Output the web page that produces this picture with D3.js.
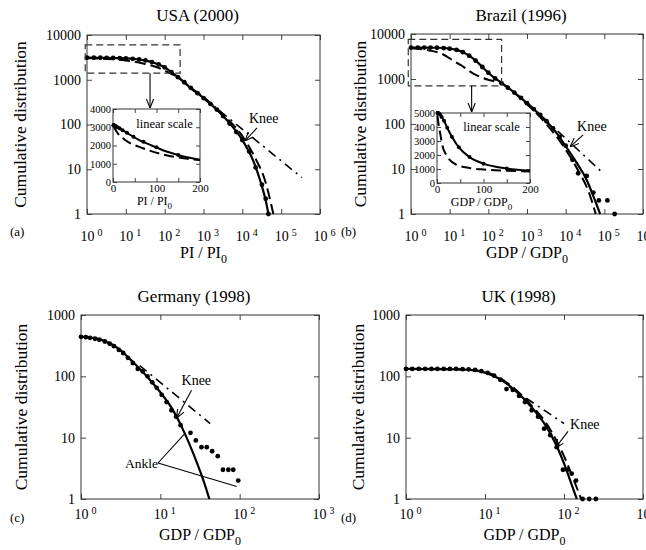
<!DOCTYPE html>
<html>
<head>
<meta charset="utf-8">
<script src="https://cdn.jsdelivr.net/npm/d3@7"></script>
<style>
  body { margin: 0; background: #fff; font-family: 'Liberation Serif', serif; }
</style>
</head>
<body>
<div id="chart"></div>
<script>
// ---- Données : [x, distribution cumulée] ----
const usaDots = [[1,3110],[1.5,3110],[2.2,3100],[3.2,3090],[4.7,3080],[7,3040],[10,3000],[15,2940],[22,2840],[32,2700],[47,2480],[70,2200],[100,1900],[150,1480],[220,1140],[320,880],[470,660],[700,500],[1000,390],[1500,290],[2200,215],[3200,155],[4700,105],[7000,68],[10000,45],[15000,25],[22000,11],[32000,4.5],[40000,2.2],[47000,1]];
const usaSolid = [[1,3110],[10,3000],[20,2870],[40,2575],[60,2300],[89,2000],[127,1640],[160,1410],[200,1220],[500,620],[1000,390],[2000,230],[5000,100],[10000,45],[20000,14],[30000,5],[40000,2],[47000,1]];
const usaDashed = [[1,3050],[10,2700],[28,2300],[69,1850],[120,1480],[162,1300],[200,1200],[500,640],[1000,410],[3000,175],[10000,55],[20000,20],[40000,5],[63000,1]];
const usaDashDot = [[1000,400],[340000,6.5]];

const brazilDots = [[1,5000],[1.5,5000],[2.2,4990],[3.2,4980],[4.7,4950],[7,4870],[10,4720],[15,4450],[22,3950],[32,3300],[47,2550],[70,1850],[100,1380],[150,1030],[220,800],[320,640],[470,500],[700,380],[1000,290],[1500,215],[2200,160],[3200,115],[4700,80],[7000,52],[10000,33],[15000,16],[21000,8],[35000,7],[52000,3],[72000,2],[120000,2],[185000,1]];
const brazilSolid = [[1,5000],[5,4950],[10,4750],[15,4450],[22,3950],[32,3300],[47,2550],[70,1850],[100,1380],[150,1030],[200,870],[500,480],[1000,290],[3000,120],[5000,75],[10000,32],[20000,13],[35000,5.7],[55000,2.2],[78000,1]];
const brazilDashed = [[1,4800],[3,4300],[6,3700],[13,2500],[20,2000],[42,1300],[70,1070],[100,960],[150,880],[200,820],[500,470],[1000,275],[3000,105],[10000,27],[20000,10],[40000,3],[60000,1]];
const brazilDashDot = [[1000,300],[94000,8]];

const germanyDots = [[1,440],[1.15,435],[1.3,425],[1.5,410],[1.7,395],[2,370],[2.3,340],[2.6,310],[3,270],[3.4,240],[3.9,200],[4.5,165],[5.2,132],[6,120],[6.9,100],[7.9,80],[9,65],[10.4,50],[12,38],[13.8,28],[15.8,22],[18,16],[24,12],[28,9],[33,7],[38.5,7],[45,6],[53,5],[61.5,3],[72,3],[83,3],[96,2]];
const germanySolid = [[1,440],[1.5,415],[2,375],[3,280],[4,200],[5,150],[7,95],[10,55],[14,30],[18.6,15],[27,4.9],[35,2],[41.5,1]];
const germanyDashDot = [[5.5,150],[42.5,17]];

const ukDots = [[1,132],[1.2,132],[1.45,132],[1.75,132],[2.1,132],[2.5,132],[3,132],[3.6,132],[4.3,132],[5.2,131],[6.2,130],[7.5,127],[9,122],[10.8,114],[13,103],[15.6,88],[18.7,62],[22.5,60],[27,48],[32,38],[39,28],[47,22],[56,14],[67,11],[81,7],[97,3],[110,3],[125,2.6],[142,2],[172,1],[209,1],[253,1]];
const ukSolid = [[1,132],[3,131],[6,128],[10,115],[15,92],[20,72],[30,45],[40,30],[60,15],[80,7.5],[100,3.8],[120,2],[145,1]];
const ukDashed = [[1,132],[5,130],[10,118],[20,75],[40,32],[60,17],[80,9],[100,5],[130,2.2],[165,1]];
const ukDashDot = [[20,68],[100,17]];

// Encarts (échelle linéaire)
const usaInsetYTicks = [0, 1000, 2000, 3000, 4000];
const brazilInsetYTicks = [0, 1000, 2000, 3000, 4000, 5000];
const insetXTicks = [0, 50, 100, 150, 200];

// ---- Mise en page ----
const FONT = "'Liberation Serif', 'Times New Roman', serif";
const svg = d3.select('#chart').append('svg')
  .attr('width', 646)
  .attr('height', 550)
  .attr('font-family', FONT);

svg.append('defs').append('marker')
  .attr('id', 'arrow')
  .attr('viewBox', '0 0 10 10')
  .attr('refX', 10).attr('refY', 5)
  .attr('markerWidth', 9).attr('markerHeight', 9)
  .attr('markerUnits', 'userSpaceOnUse')
  .attr('orient', 'auto')
  .append('path')
  .attr('d', 'M0,1 L10,5 L0,9')
  .attr('fill', 'none')
  .attr('stroke', '#000')
  .attr('stroke-width', 1.2);

const panels = [
  {
    key: 'a', title: 'USA (2000)', label: '(a)', left: 87, right: 320, top: 35, bottom: 214,
    xMax: 1e6, yMax: 1e4, xPad: 17, xTitle: ['PI / PI', '0'], xTitleY: 258, labelPos: [10, 236], yTitleX: 20, titleY: 21,
    dots: usaDots, solid: usaSolid, dashed: usaDashed, dashDot: usaDashDot,
    knees: [{ text: 'Knee', tip: [11700, 43], textOff: [4, -18], tailOff: [12, -13] }],
    box: { x: [0.9, 250], y: [1400, 6000], arrowX: 42 },
    inset: { left: 113, right: 200, top: 109, bottom: 182, yMax: 4000, yTicks: usaInsetYTicks, title: ['PI / PI', '0'], textY: 127.5, titleY: 205 }
  },
  {
    key: 'b', title: 'Brazil (1996)', label: '(b)', left: 411, right: 643, top: 34, bottom: 214,
    xMax: 1e6, yMax: 1e4, xPad: 17, xTitle: ['GDP / GDP', '0'], xTitleY: 258, labelPos: [341, 236], yTitleX: 360, titleY: 21,
    dots: brazilDots, solid: brazilSolid, dashed: brazilDashed, dashDot: brazilDashDot,
    knees: [{ text: 'Knee', tip: [13000, 31], textOff: [7, -16], tailOff: [13, -12] }],
    box: { x: [0.85, 220], y: [700, 7600], arrowX: 37 },
    inset: { left: 437, right: 530, top: 113, bottom: 183, yMax: 5000, yTicks: brazilInsetYTicks, title: ['GDP / GDP', '0'], textY: 131, titleY: 206 }
  },
  {
    key: 'c', title: 'Germany (1998)', label: '(c)', left: 81, right: 319, top: 315, bottom: 499,
    xMax: 1e3, yMax: 1e3, xPad: 10, xTitle: ['GDP / GDP', '0'], xTitleY: 540, labelPos: [10, 522], yTitleX: 21, titleY: 302,
    dots: germanyDots, solid: germanySolid, dashed: null, dashDot: germanyDashDot,
    knees: [{ text: 'Knee', tip: [16, 20.7], textOff: [5, -33], tailOff: [15, -28] }],
    ankle: { textAt: [125, 468], ends: [[20.5, 11.8], [92, 1.6]] }
  },
  {
    key: 'd', title: 'UK (1998)', label: '(d)', left: 406, right: 643, top: 315, bottom: 499,
    xMax: 1e3, yMax: 1e3, xPad: 10, xTitle: ['GDP / GDP', '0'], xTitleY: 540, labelPos: [341, 522], yTitleX: 358, titleY: 302,
    dots: ukDots, solid: ukSolid, dashed: ukDashed, dashDot: ukDashDot,
    knees: [{ text: 'Knee', tip: [77, 6.7], textOff: [15, -19], tailOff: [13, -17] }]
  }
];

panels.forEach(drawPanel);

function powerLabels(axisG) {
  axisG.selectAll('.tick text').each(function (d) {
    const t = d3.select(this).text(null).attr('text-anchor', 'start').attr('x', -7);
    t.append('tspan').text('10');
    t.append('tspan').attr('dx', 3).attr('dy', '-0.45em').attr('font-size', 10)
      .text(Math.round(Math.log10(d)));
  });
}

function subscriptText(g, parts, x, y, size, subSize) {
  const t = g.append('text').attr('x', x).attr('y', y)
    .attr('text-anchor', 'middle').attr('font-size', size);
  t.append('tspan').text(parts[0]);
  t.append('tspan').attr('dy', size * 0.3).attr('font-size', subSize).text(parts[1]);
  return t;
}

function styleAxisText(a, size) {
  a.attr('font-family', FONT).attr('font-size', size).selectAll('text').attr('fill', '#000');
}

function drawPanel(p) {
  const x = d3.scaleLog().domain([1, p.xMax]).range([p.left, p.right]);
  const y = d3.scaleLog().domain([1, p.yMax]).range([p.bottom, p.top]);
  const g = svg.append('g').attr('class', 'panel-' + p.key);
  const xVals = d3.range(0, Math.round(Math.log10(p.xMax)) + 1).map(e => Math.pow(10, e));
  const yVals = d3.range(0, Math.round(Math.log10(p.yMax)) + 1).map(e => Math.pow(10, e));

  // Axes (graduations vers l'intérieur sur les quatre côtés)
  const xb = g.append('g').attr('transform', `translate(0,${p.bottom})`)
    .call(d3.axisBottom(x).tickValues(xVals).tickSizeInner(-5).tickSizeOuter(0).tickPadding(p.xPad));
  powerLabels(xb);
  const yl = g.append('g').attr('transform', `translate(${p.left},0)`)
    .call(d3.axisLeft(y).tickValues(yVals).tickFormat(d3.format('d')).tickSizeInner(-5).tickSizeOuter(0).tickPadding(6));
  g.append('g').attr('transform', `translate(0,${p.top})`)
    .call(d3.axisTop(x).tickValues(xVals).tickFormat('').tickSizeInner(-5).tickSizeOuter(0));
  g.append('g').attr('transform', `translate(${p.right},0)`)
    .call(d3.axisRight(y).tickValues(yVals).tickFormat('').tickSizeInner(-5).tickSizeOuter(0));
  g.selectAll('.domain').remove();
  g.selectAll('.tick line').attr('stroke', '#444');
  styleAxisText(xb, 14);
  styleAxisText(yl, 14);

  g.append('rect')
    .attr('x', p.left).attr('y', p.top)
    .attr('width', p.right - p.left).attr('height', p.bottom - p.top)
    .attr('fill', 'none').attr('stroke', '#333').attr('stroke-width', 1);

  // Textes
  g.append('text').text(p.title)
    .attr('x', (p.left + p.right) / 2 - 6).attr('y', p.titleY)
    .attr('text-anchor', 'middle').attr('font-size', 17);
  g.append('text').text('Cumulative distribution')
    .attr('transform', `translate(${p.yTitleX},${(p.top + p.bottom) / 2}) rotate(-90)`)
    .attr('text-anchor', 'middle').attr('dominant-baseline', 'central').attr('font-size', 17.5);
  subscriptText(g, p.xTitle, (p.left + p.right) / 2, p.xTitleY, 16, 12);
  g.append('text').text(p.label)
    .attr('x', p.labelPos[0]).attr('y', p.labelPos[1]).attr('font-size', 13);

  // Courbes
  const clipId = 'clip-' + p.key;
  svg.select('defs').append('clipPath').attr('id', clipId)
    .append('rect').attr('x', p.left).attr('y', p.top - 1)
    .attr('width', p.right - p.left).attr('height', p.bottom - p.top + 2);
  const plot = g.append('g').attr('clip-path', `url(#${clipId})`);
  const line = d3.line().x(d => x(d[0])).y(d => y(d[1])).curve(d3.curveMonotoneX);

  if (p.dashDot) {
    plot.append('path').datum(p.dashDot).attr('d', line)
      .attr('fill', 'none').attr('stroke', '#000').attr('stroke-width', 1.6)
      .attr('stroke-dasharray', '9,5,2,5');
  }
  if (p.dashed) {
    plot.append('path').datum(p.dashed).attr('d', line)
      .attr('fill', 'none').attr('stroke', '#000').attr('stroke-width', 2)
      .attr('stroke-dasharray', '11,5');
  }
  plot.append('path').datum(p.solid).attr('d', line)
    .attr('fill', 'none').attr('stroke', '#000').attr('stroke-width', 2.2);

  g.append('g').selectAll('circle')
    .data(p.dots)
    .enter()
    .append('circle')
    .attr('cx', d => x(d[0]))
    .attr('cy', d => y(d[1]))
    .attr('r', 2.4)
    .attr('fill', '#000');

  // Annotations « Knee »
  p.knees.forEach(k => {
    const tx = x(k.tip[0]), ty = y(k.tip[1]);
    g.append('text').text(k.text)
      .attr('x', tx + k.textOff[0]).attr('y', ty + k.textOff[1]).attr('font-size', 14);
    g.append('line')
      .attr('x1', tx + k.tailOff[0]).attr('y1', ty + k.tailOff[1])
      .attr('x2', tx).attr('y2', ty)
      .attr('stroke', '#000').attr('stroke-width', 1.1)
      .attr('marker-end', 'url(#arrow)');
  });

  if (p.ankle) {
    const a = p.ankle;
    g.append('text').text('Ankle')
      .attr('x', a.textAt[0]).attr('y', a.textAt[1]).attr('font-size', 13.5);
    a.ends.forEach(e => {
      g.append('line')
        .attr('x1', a.textAt[0] + 33).attr('y1', a.textAt[1] - 5)
        .attr('x2', x(e[0])).attr('y2', y(e[1]))
        .attr('stroke', '#000').attr('stroke-width', 1.1);
    });
  }

  if (p.box) drawZoomBox(g, p, x, y);
  if (p.inset) drawInset(g, p);
}

function drawZoomBox(g, p, x, y) {
  const b = p.box;
  g.append('rect')
    .attr('x', x(b.x[0])).attr('y', y(b.y[1]))
    .attr('width', x(b.x[1]) - x(b.x[0])).attr('height', y(b.y[0]) - y(b.y[1]))
    .attr('fill', 'none').attr('stroke', '#333').attr('stroke-width', 1.2)
    .attr('stroke-dasharray', '7,4');
  g.append('line')
    .attr('x1', x(b.arrowX)).attr('y1', y(b.y[0]))
    .attr('x2', x(b.arrowX)).attr('y2', p.inset.top - 1)
    .attr('stroke', '#000').attr('stroke-width', 1.1)
    .attr('marker-end', 'url(#arrow)');
}

function drawInset(g, p) {
  const ins = p.inset;
  const x = d3.scaleLinear().domain([0, 200]).range([ins.left, ins.right]);
  const y = d3.scaleLinear().domain([0, ins.yMax]).range([ins.bottom, ins.top]);
  const ig = g.append('g').attr('class', 'inset');

  ig.append('rect')
    .attr('x', ins.left).attr('y', ins.top)
    .attr('width', ins.right - ins.left).attr('height', ins.bottom - ins.top)
    .attr('fill', '#fff');

  const xa = ig.append('g').attr('transform', `translate(0,${ins.bottom})`)
    .call(d3.axisBottom(x).tickValues(insetXTicks).tickFormat(d => d % 100 === 0 ? d : '')
      .tickSizeInner(-4).tickSizeOuter(0).tickPadding(2));
  const ya = ig.append('g').attr('transform', `translate(${ins.left},0)`)
    .call(d3.axisLeft(y).tickValues(ins.yTicks).tickFormat(d3.format('d')).tickSizeInner(-4).tickSizeOuter(0).tickPadding(2));
  ig.append('g').attr('transform', `translate(0,${ins.top})`)
    .call(d3.axisTop(x).tickValues(insetXTicks).tickFormat('').tickSizeInner(-4).tickSizeOuter(0));
  ig.append('g').attr('transform', `translate(${ins.right},0)`)
    .call(d3.axisRight(y).tickValues(ins.yTicks).tickFormat('').tickSizeInner(-4).tickSizeOuter(0));
  ig.selectAll('.domain').remove();
  ig.selectAll('.tick line').attr('stroke', '#444');
  styleAxisText(xa, 11);
  styleAxisText(ya, 10.5);

  ig.append('rect')
    .attr('x', ins.left).attr('y', ins.top)
    .attr('width', ins.right - ins.left).attr('height', ins.bottom - ins.top)
    .attr('fill', 'none').attr('stroke', '#333');

  const keep = arr => arr.filter(d => d[0] <= 200);
  const line = d3.line().x(d => x(d[0])).y(d => y(d[1])).curve(d3.curveMonotoneX);
  ig.append('path').datum(keep(p.dashed)).attr('d', line)
    .attr('fill', 'none').attr('stroke', '#000').attr('stroke-width', 2)
    .attr('stroke-dasharray', '10,5');
  ig.append('path').datum(keep(p.solid)).attr('d', line)
    .attr('fill', 'none').attr('stroke', '#000').attr('stroke-width', 2);
  ig.append('g').selectAll('circle')
    .data(keep(p.dots))
    .enter()
    .append('circle')
    .attr('cx', d => x(d[0]))
    .attr('cy', d => y(d[1]))
    .attr('r', 2)
    .attr('fill', '#000');

  ig.append('text').text('linear scale')
    .attr('x', (ins.left + ins.right) / 2 + 8).attr('y', ins.textY)
    .attr('text-anchor', 'middle').attr('font-size', 12.5);
  subscriptText(ig, ins.title, (ins.left + ins.right) / 2 - 2, ins.titleY, 12, 9);
}
</script>
</body>
</html>
